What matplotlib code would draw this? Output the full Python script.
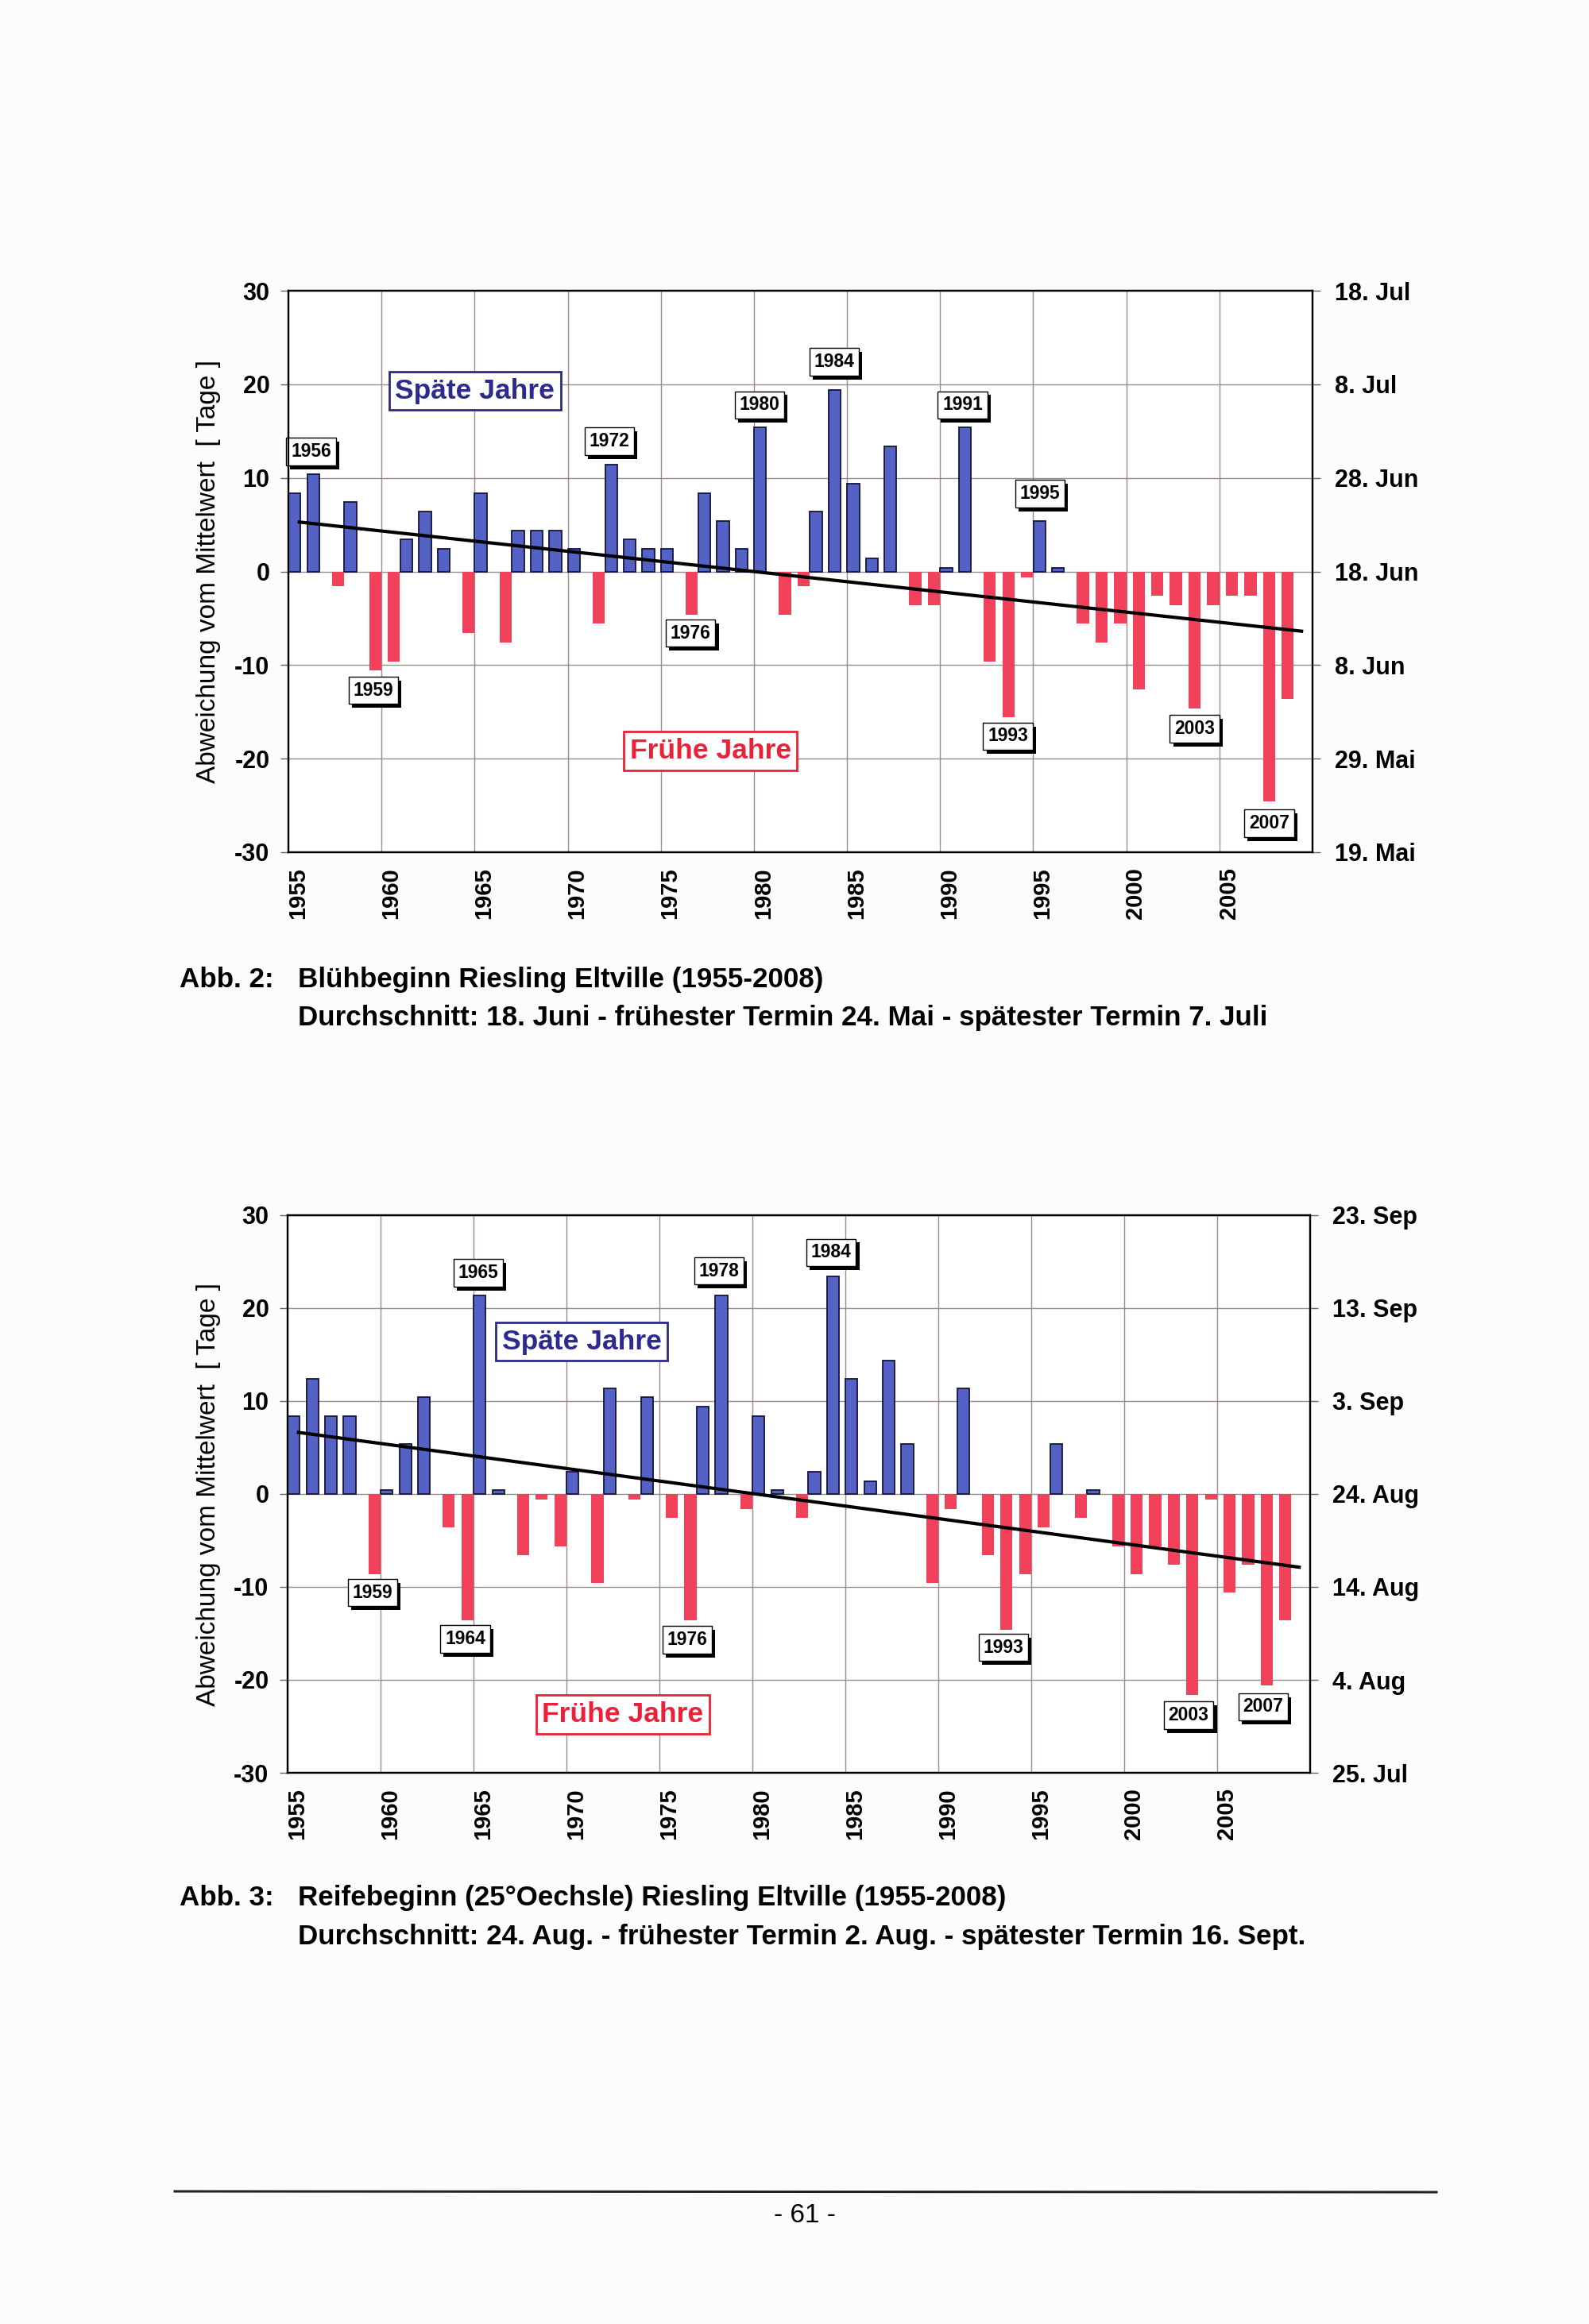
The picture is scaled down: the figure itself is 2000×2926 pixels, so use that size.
import matplotlib
matplotlib.use('Agg')
import matplotlib.pyplot as plt
import matplotlib.patheffects as pe
import numpy as np

plt.rcParams['font.family'] = ['Liberation Sans', 'DejaVu Sans']
plt.rcParams['axes.unicode_minus'] = False

# ---------------- data ----------------
years = list(range(1955, 2009))

bluete = [8.4, 10.4, -1.6, 7.4, -10.6, -9.6, 3.4, 6.4, 2.4, -6.6,
          8.4, -7.6, 4.4, 4.4, 4.4, 2.4, -5.6, 11.4, 3.4, 2.4,
          2.4, -4.6, 8.4, 5.4, 2.4, 15.4, -4.6, -1.6, 6.4, 19.4,
          9.4, 1.4, 13.4, -3.6, -3.6, 0.4, 15.4, -9.6, -15.6, -0.6,
          5.4, 0.4, -5.6, -7.6, -5.6, -12.6, -2.6, -3.6, -14.6, -3.6,
          -2.6, -2.6, -24.6, -13.6]

reife = [8.4, 12.4, 8.4, 8.4, -8.6, 0.4, 5.4, 10.4, -3.6, -13.6,
         21.4, 0.4, -6.6, -0.6, -5.6, 2.4, -9.6, 11.4, -0.6, 10.4,
         -2.6, -13.6, 9.4, 21.4, -1.6, 8.4, 0.4, -2.6, 2.4, 23.4,
         12.4, 1.4, 14.4, 5.4, -9.6, -1.6, 11.4, -6.6, -14.6, -8.6,
         -3.6, 5.4, -2.6, 0.4, -5.6, -8.6, -5.6, -7.6, -21.6, -0.6,
         -10.6, -7.6, -20.6, -13.6]

trend_years = [1955, 2009]
bluete_trend = [5.3, -6.4]
reife_trend = [6.65, -7.9]

y_ticks = [-30, -20, -10, 0, 10, 20, 30]
y_labels = ["-30", "-20", "-10", "0", "10", "20", "30"]
bluete_dates = ["19. Mai", "29. Mai", "8. Jun", "18. Jun", "28. Jun", "8. Jul", "18. Jul"]
reife_dates = ["25. Jul", "4. Aug", "14. Aug", "24. Aug", "3. Sep", "13. Sep", "23. Sep"]
label_years = [1955, 1960, 1965, 1970, 1975, 1980, 1985, 1990, 1995, 2000, 2005]

bluete_marks = [("1956", 1955.72, 12.8), ("1959", 1959.05, -12.7), ("1972", 1971.73, 13.9),
                ("1976", 1976.1, -6.6), ("1980", 1979.8, 17.8), ("1984", 1983.8, 22.4),
                ("1991", 1990.7, 17.8), ("1995", 1994.86, 8.3), ("1993", 1993.14, -17.6),
                ("2003", 2003.17, -16.8), ("2007", 2007.17, -26.9)]
reife_marks = [("1965", 1964.76, 23.8), ("1959", 1959.07, -10.6), ("1964", 1964.05, -15.6),
               ("1978", 1977.7, 24.0), ("1984", 1983.74, 26.0), ("1976", 1976.0, -15.7),
               ("1993", 1993.0, -16.5), ("2003", 2002.97, -23.8), ("2007", 2006.97, -22.9)]

bluete_spaet = (1964.52, 19.3)
bluete_frueh = (1977.16, -19.2)
reife_spaet = (1970.32, 16.4)
reife_frueh = (1972.53, -23.7)

BLUE = '#5462c6'
RED = '#f2415a'
GRID = '#9a8c8c'
DARKBLUE = '#2c2a8e'
DARKRED = '#ea2238'

W, H = 2000, 2926
fig = plt.figure(figsize=(20, 29.26), dpi=100, facecolor='#fcfcfc')


def px_axes(left, top, right, bottom):
    return fig.add_axes([left / W, 1 - bottom / H, (right - left) / W, (bottom - top) / H])


def year_box(ax, s, x, y):
    t = ax.text(x, y, s, ha='center', va='center', fontsize=16.5, fontweight='bold',
                zorder=7, bbox=dict(boxstyle='square,pad=0.25', fc='white', ec='black', lw=1.0))
    t.get_bbox_patch().set_path_effects([
        pe.SimplePatchShadow(offset=(3, -3.5), shadow_rgbFace='black', alpha=1.0),
        pe.Normal()])


def draw(ax, vals, trend, right_labels, marks, spaet, frueh):
    yrs = np.array(years)
    v = np.array(vals)
    pos = v > 0
    neg = v < 0
    ax.bar(yrs[pos] - 0.167, v[pos], width=0.655, color=BLUE, edgecolor='#15153a',
           linewidth=1.3, zorder=3)
    ax.bar(yrs[neg] + 0.167, v[neg], width=0.655, color=RED, linewidth=0, zorder=3)
    ax.plot(trend_years, trend, color='black', lw=3.0, zorder=4, solid_capstyle='butt')

    ax.set_xlim(1954.5, 2009.5)
    ax.set_ylim(-30, 30)
    ax.set_yticks(y_ticks)
    ax.set_yticklabels(y_labels, fontweight='bold', fontsize=22)
    ax.set_xticks(label_years)
    ax.set_xticklabels([str(y) for y in label_years], rotation=90, fontweight='bold', fontsize=21)
    ax.set_xticks([y - 0.5 for y in label_years[1:]], minor=True)
    ax.tick_params(axis='x', which='both', length=0, pad=14)
    ax.tick_params(axis='y', length=7, width=1, direction='out', pad=10, color='#666666')
    ax.grid(axis='y', color=GRID, lw=1.0)
    ax.grid(axis='x', which='minor', color=GRID, lw=1.0)
    ax.set_axisbelow(True)
    ax.set_facecolor('white')
    for s in ax.spines.values():
        s.set_linewidth(1.6)

    tw = ax.twinx()
    tw.set_ylim(-30, 30)
    tw.set_yticks(y_ticks)
    tw.set_yticklabels(right_labels, fontweight='bold', fontsize=22)
    tw.tick_params(axis='y', length=7, width=1, direction='out', pad=13, color='#666666')
    for s in tw.spines.values():
        s.set_linewidth(1.6)

    for s, x, y in marks:
        year_box(ax, s, x, y)

    ax.text(spaet[0], spaet[1], "Späte Jahre", ha='center', va='center', fontsize=25.5,
            fontweight='bold', color=DARKBLUE, zorder=7,
            bbox=dict(boxstyle='square,pad=0.22', fc='white', ec=DARKBLUE, lw=2.0))
    ax.text(frueh[0], frueh[1], "Frühe Jahre", ha='center', va='center', fontsize=25.5,
            fontweight='bold', color=DARKRED, zorder=7,
            bbox=dict(boxstyle='square,pad=0.22', fc='white', ec=DARKRED, lw=2.0))


ax1 = px_axes(363, 366, 1652, 1073)
draw(ax1, bluete, bluete_trend, bluete_dates, bluete_marks, bluete_spaet, bluete_frueh)
ax2 = px_axes(362, 1530, 1649, 2232)
draw(ax2, reife, reife_trend, reife_dates, reife_marks, reife_spaet, reife_frueh)

ylab = "Abweichung vom Mittelwert  [ Tage ]"
fig.text(262 / W, 1 - 720 / H, ylab, rotation=90, ha='center', va='center', fontsize=24)
fig.text(262 / W, 1 - 1881 / H, ylab, rotation=90, ha='center', va='center', fontsize=24)

cap = dict(fontsize=25.2, fontweight='bold', va='baseline', ha='left')
fig.text(226 / W, 1 - 1243 / H, "Abb. 2:", **cap)
fig.text(375 / W, 1 - 1243 / H, "Blühbeginn Riesling Eltville (1955-2008)", **cap)
fig.text(375 / W, 1 - 1291 / H,
         "Durchschnitt: 18. Juni - frühester Termin 24. Mai - spätester Termin 7. Juli", **cap)
fig.text(226 / W, 1 - 2399 / H, "Abb. 3:", **cap)
fig.text(375 / W, 1 - 2399 / H, "Reifebeginn (25°Oechsle) Riesling Eltville (1955-2008)", **cap)
fig.text(375 / W, 1 - 2448 / H,
         "Durchschnitt: 24. Aug. - frühester Termin 2. Aug. - spätester Termin 16. Sept.", **cap)

fig.add_artist(plt.Line2D([220 / W, 1808 / W], [1 - 2759 / H, 1 - 2760 / H], color='#222222', lw=2.2))
fig.text(1013 / W, 1 - 2790 / H, "- 61 -", ha='center', va='center', fontsize=24)

fig.savefig('out.png', dpi=100, facecolor=fig.get_facecolor())
